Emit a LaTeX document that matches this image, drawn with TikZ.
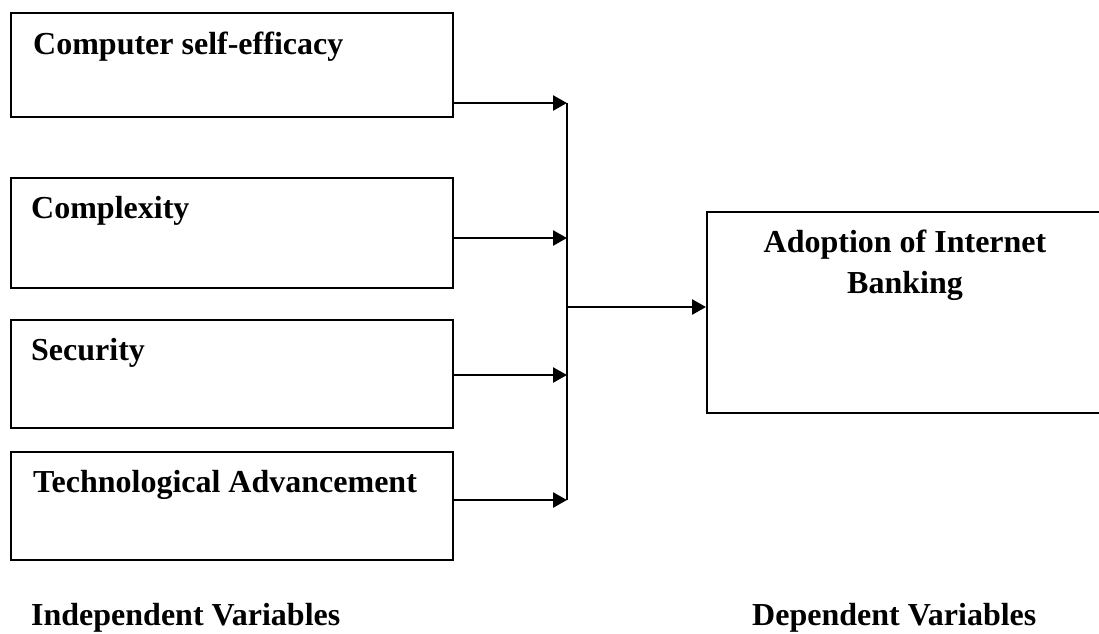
\documentclass[tikz,border=0pt]{standalone}
\usepackage{fontspec}
\setmainfont{Liberation Serif}
\usetikzlibrary{arrows.meta}
\begin{document}
\begin{tikzpicture}[x=1pt,y=-1pt,
  box/.style={draw=black,line width=2.2pt,rectangle,anchor=north west,inner sep=0pt},
  lbl/.style={inner sep=0pt,anchor=base west,font=\fontsize{32}{41}\selectfont\bfseries},
  conn/.style={line width=2.6pt,-{Triangle[length=14pt,width=15pt]}},
  trunk/.style={line width=2.2pt}]
\clip (0,0) rectangle (1099,633);
\fill[white] (0,0) rectangle (1099,633);
% boxes
\node[box,minimum width=442pt,minimum height=104pt] (b1) at (10,12) {};
\node[box,minimum width=442pt,minimum height=110pt] (b2) at (10,177) {};
\node[box,minimum width=442pt,minimum height=108pt] (b3) at (10,319) {};
\node[box,minimum width=442pt,minimum height=108pt] (b4) at (10,451) {};
\node[box,minimum width=396pt,minimum height=201pt] (dv) at (706,211) {};
% labels
\node[lbl] (t1) at (33,54) {Computer self-efficacy};
\node[lbl] (t2) at (31,218) {Complexity};
\node[lbl] (t3) at (31,360) {Security};
\node[lbl] (t4) at (33,492) {Technological Advancement};
\node[lbl,anchor=base,align=center] (t5) at (905,293) {Adoption of Internet\\Banking};
\node[lbl] (iv) at (31,625) {Independent Variables};
\node[lbl] (dvl) at (752,625) {Dependent Variables};
% junction
\coordinate (j1) at (567,103);
\coordinate (j2) at (567,238);
\coordinate (j3) at (567,375);
\coordinate (j4) at (567,500);
\coordinate (jm) at (567,307);
\draw[trunk] (j1) -- (j4);
\draw[conn] (b1.east |- j1) -- (j1);
\draw[conn] (b2.east |- j2) -- (j2);
\draw[conn] (b3.east |- j3) -- (j3);
\draw[conn] (b4.east |- j4) -- (j4);
\draw[conn] (jm) -- (dv.west |- jm);
\end{tikzpicture}
\end{document}
